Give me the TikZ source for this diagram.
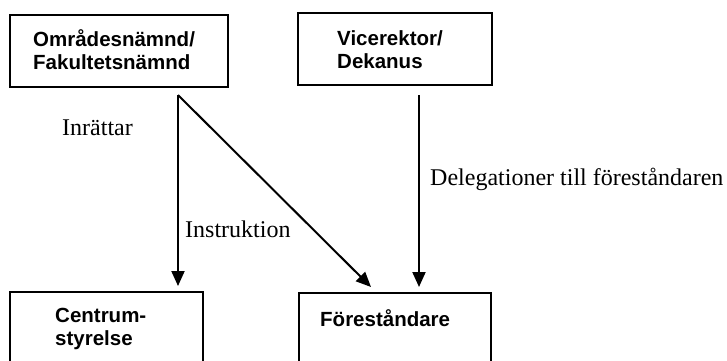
\documentclass[tikz,border=0pt]{standalone}
\usepackage{fontspec}
\setmainfont{Liberation Serif}
\newfontfamily\boxfont{Liberation Sans}
\usetikzlibrary{arrows.meta}
\tikzset{
  orgbox/.style={draw=black, line width=2pt, fill=white, inner sep=0pt},
  boxtext/.style={font=\boxfont\bfseries\fontsize{20.5}{23}\selectfont, anchor=base west, inner sep=0pt, align=left},
  lbl/.style={font=\fontsize{24}{28}\selectfont, anchor=base west, inner sep=0pt},
  arr/.style={line width=2pt, -{Triangle[length=15pt,width=13pt]}}
}
\begin{document}
\begin{tikzpicture}[x=1pt,y=-1pt]
\useasboundingbox (0,0) rectangle (727,360);
\clip (0,0) rectangle (727,360);
\fill[white] (0,0) rectangle (727,360);
% boxes
\node[orgbox, minimum width=218pt, minimum height=72pt] (b1) at (119,51) {};
\node[orgbox, minimum width=194pt, minimum height=72pt] (b2) at (395,49) {};
\node[orgbox, minimum width=193pt, minimum height=90pt] (b3) at (106.5,337) {};
\node[orgbox, minimum width=192pt, minimum height=90pt] (b4) at (395,338) {};
% box texts (base = last line)
\node[boxtext] (t1) at (33,69) {Områdesnämnd/\\Fakultetsnämnd};
\node[boxtext] (t2) at (337,68) {Vicerektor/\\Dekanus};
\node[boxtext] (t3) at (55,345) {Centrum-\\styrelse};
\node[boxtext] (t4) at (320,326) {Föreståndare};
% arrow start points
\coordinate (s1) at (178,95);
\coordinate (s2) at (419,95);
\draw[arr, shorten >=5pt] (s1) -- (s1 |- b3.north);
\draw[arr] (s1) -- (371,287);
\draw[arr, shorten >=5pt] (s2) -- (s2 |- b4.north);
% labels
\node[lbl] (l1) at (62,135) {Inrättar};
\node[lbl] (l2) at (185,237) {Instruktion};
\node[lbl] (l3) at (430,185) {Delegationer till föreståndaren};
\end{tikzpicture}
\end{document}
